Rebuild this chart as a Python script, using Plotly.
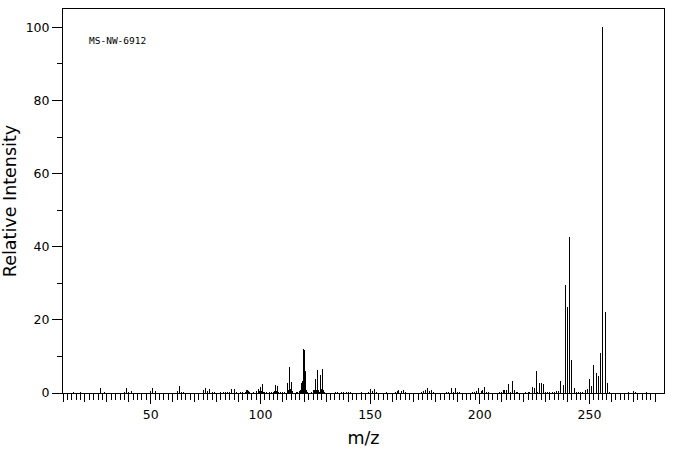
import plotly.graph_objects as go

# m/z positions and relative intensities (%)
mz = [
    15, 18, 27, 29, 38, 39, 40, 41, 50, 51, 52,
    62, 63, 64, 65, 74, 75, 76, 77, 78, 79,
    82, 83, 84, 85, 86, 87, 88, 89, 91, 92,
    93, 93.5, 94, 94.5, 95, 97, 98, 99, 99.5, 100, 100.5, 101, 101.5,
    102, 103, 104, 105, 105.8, 106.3, 106.8, 107.2, 107.7, 108.3, 109, 110, 111,
    112.2, 112.6, 113.1, 113.5, 114.0, 114.5,
    116.5, 117.0, 117.6, 118.2, 118.6, 119.1, 119.5, 120.0, 120.5, 120.9, 121.4,
    123.4, 124.0, 124.6, 125.0, 125.5, 125.9, 126.4, 126.9, 127.3, 127.8, 128.3, 128.7, 129.2,
    134.3, 135.3, 136.8, 137.8, 139.2, 140.3, 141.2, 146,
    149.2, 150.1, 151, 152, 153, 157.6,
    161.4, 162.3, 163.1, 164.2, 165.1, 166,
    173.3, 174.2, 175.1, 176, 176.9, 177.9, 178.8,
    185, 185.9, 187, 187.9, 188.8, 189.7, 190.6,
    196.7, 197.6, 198.5, 199.6, 200.6, 201.1, 202.1, 203, 204,
    208.9, 209.8, 210.7, 211.4, 212.1, 213, 214, 215, 215.9, 216.8,
    217.3, 220.8, 222, 222.9, 224, 224.9, 226, 226.5, 227.1, 228.1, 229.1,
    230, 231, 232, 233, 234, 235, 236, 236.9, 238.2,
    239.1, 240.0, 241.0, 241.9, 243.2, 244, 245, 246, 247,
    248.2, 249, 250, 251, 252, 253, 254.3, 255.2, 256.1, 257.1, 258.1, 259,
    268, 270, 271, 276,
]
intensity = [
    0.4, 0.4, 1.4, 0.4, 0.3, 1.5, 0.4, 0.5, 0.6, 1.5, 0.5,
    0.5, 1.8, 0.4, 0.4, 0.7, 1.5, 0.5, 1.2, 0.4, 0.3,
    0.4, 0.4, 0.4, 0.4, 0.4, 1.0, 1.0, 0.4, 0.4, 0.4,
    0.4, 0.8, 0.8, 0.5, 0.3, 0.3, 0.5, 1.1, 0.5, 1.7, 0.5, 2.5, 0.4,
    0.3, 0.3, 0.3, 0.3, 0.4, 0.6, 2.2, 0.6, 1.9, 0.3, 0.2, 0.3, 0.3,
    2.6, 0.8, 7.1, 1.0, 3.1, 0.5,
    0.3, 0.3, 0.6, 0.9, 2.7, 3.3, 11.9, 11.7, 6.1, 0.9, 0.3,
    0.3, 0.8, 0.8, 3.7, 0.7, 6.2, 0.7, 0.3, 5.0, 1.0, 6.7, 0.8, 0.3,
    0.2, 0.2, 0.2, 0.2, 0.3, 0.2, 0.2, 0.2,
    0.4, 1.2, 0.6, 1.2, 0.2, 0.2,
    0.2, 0.5, 0.9, 0.5, 0.9, 0.4,
    0.4, 0.6, 0.9, 1.3, 0.6, 0.9, 0.4,
    0.2, 0.4, 1.5, 0.4, 1.5, 0.4, 0.2,
    0.2, 0.4, 0.6, 1.5, 0.5, 0.9, 1.7, 0.4, 0.2,
    0.2, 0.3, 0.9, 0.9, 0.9, 2.4, 0.4, 3.4, 0.9, 0.3,
    0.2, 0.2, 0.3, 0.3, 1.6, 1.3, 6.0, 0.3, 2.7, 2.7, 2.5,
    0.4, 0.3, 0.3, 0.3, 0.3, 0.5, 0.5, 3.4, 2.2,
    29.5, 23.4, 42.7, 9.0, 1.4, 0.3, 0.3, 0.3, 0.3,
    0.7, 1.0, 3.8, 1.9, 7.7, 5.6, 4.6, 11.0, 100, 22.2, 2.7, 0.4,
    0.3, 0.6, 0.3, 0.2,
]

label_text = "MS-NW-6912"
x_title = "m/z"
y_title = "Relative Intensity"

# axis tick positions
x_range = [10, 284]
x_minor_ticks = list(range(10, 281, 2))
x_mid_ticks = list(range(10, 281, 10))

# build vertical stick lines (m, 0) -> (m, I) from the data arrays
stick_x, stick_y = [], []
for m, v in zip(mz, intensity):
    stick_x += [m, m, None]
    stick_y += [0, v, None]

fig = go.Figure()
fig.add_trace(go.Scatter(
    x=stick_x, y=stick_y, mode="lines",
    line=dict(color="black", width=1),
    hoverinfo="skip", showlegend=False, connectgaps=False,
))

font_main = "DejaVu Sans"

fig.update_layout(
    width=676, height=455,
    margin=dict(l=63, r=12, t=9, b=62),
    paper_bgcolor="white", plot_bgcolor="white",
    font=dict(family=font_main, color="black", size=12.5),
    xaxis=dict(
        range=x_range, tick0=0, dtick=50,
        ticks="outside", ticklen=10, tickwidth=1, tickcolor="black",
        minor=dict(tickmode="array", tickvals=x_minor_ticks, ticks="outside", ticklen=6,
                   tickwidth=1, tickcolor="black", showgrid=False),
        showgrid=False, zeroline=False,
        showline=True, linecolor="black", linewidth=1, mirror=True,
        tickfont=dict(family=font_main, size=12.5, color="black"),
        title=dict(text=x_title, font=dict(family=font_main, size=17.5, color="black"), standoff=10),
        automargin=False,
    ),
    xaxis2=dict(
        range=x_range, overlaying="x", anchor="y", side="bottom",
        tickmode="array", tickvals=x_mid_ticks, ticks="outside", ticklen=8, tickwidth=1, tickcolor="black",
        showticklabels=False, showgrid=False, zeroline=False, showline=False,
        automargin=False,
    ),
    yaxis=dict(
        range=[0, 105], tick0=0, dtick=20,
        ticks="outside", ticklen=10, tickwidth=1, tickcolor="black",
        minor=dict(dtick=10, tick0=0, ticks="outside", ticklen=5, tickwidth=1, tickcolor="black", showgrid=False),
        showgrid=False, zeroline=False,
        showline=True, linecolor="black", linewidth=1, mirror=True,
        tickfont=dict(family=font_main, size=12.5, color="black"),
        title=dict(text=y_title, font=dict(family=font_main, size=17.5, color="black"), standoff=8),
        automargin=False,
    ),
)

fig.add_trace(go.Scatter(x=[], y=[], xaxis="x2", yaxis="y", showlegend=False, hoverinfo="skip"))

fig.add_annotation(
    x=21, y=96.3, xref="x", yref="y", text=label_text, showarrow=False,
    xanchor="left", yanchor="middle",
    font=dict(family="DejaVu Sans Mono", size=9.5, color="black"),
)

post = """
document.body.style.margin = '0px';
document.querySelectorAll('.scatterlayer path.js-line').forEach(function(p){
  p.style.shapeRendering = 'crispEdges';
});
"""

fig.write_html("out.html", post_script=post, config={"displayModeBar": False})
